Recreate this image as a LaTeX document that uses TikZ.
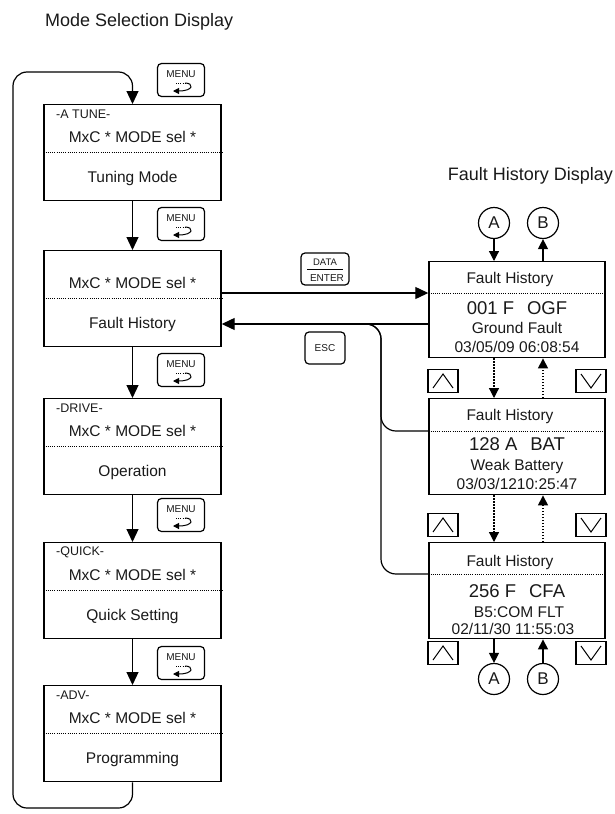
\documentclass[tikz,border=0pt]{standalone}
\usepackage{fontspec}
\setmainfont{Liberation Sans}
\usetikzlibrary{arrows.meta,calc}

\newcommand{\txtsz}[1]{\fontsize{#1}{#1}\selectfont}

\begin{document}
\begin{tikzpicture}[x=1pt, y=-1pt,
  every node/.style={text=black!90, inner sep=0pt},
  screen/.style={draw, line width=1.4pt, minimum width=177pt, minimum height=96pt},
  dotsep/.style={line width=0.9pt, dash pattern=on 0.9pt off 1.3pt},
  flow/.style={line width=1.2pt, -{Triangle[length=13pt,width=12pt]}},
  link/.style={line width=1.2pt, -{Triangle[length=10pt,width=10pt]}},
  dlink/.style={line width=1.2pt, dash pattern=on 1.4pt off 1.6pt, -{Triangle[length=10pt,width=10pt]}},
  btn/.style={draw, line width=1.2pt, rounded corners=4pt, minimum width=47pt, minimum height=33pt},
  arrowkey/.style={draw, line width=1.2pt, minimum width=30pt, minimum height=23pt},
  modetag/.style={anchor=west, font=\txtsz{12.5}},
  lbl/.style={font=\txtsz{15.5}},
  big/.style={font=\txtsz{18.5}},
  letter/.style={draw, circle, line width=1.2pt, minimum size=31pt, font=\txtsz{17}},
]
\useasboundingbox (0,0) rectangle (615,814);

% titles
\node[anchor=west, font=\txtsz{18}] (mstitle) at (45,22) {Mode Selection Display};
\node[anchor=east, font=\txtsz{18}] (fhtitle) at (613,176) {Fault History Display};

% mode selection screens
\foreach \n/\y/\tg/\md in {1/104/-A TUNE-/Tuning Mode, 2/250//Fault History,
    3/398/-DRIVE-/Operation, 4/542/-QUICK-/Quick Setting, 5/685/-ADV-/Programming} {
  \node[screen, anchor=north] (m\n) at (132.5,\y) {};
  \draw[dotsep] ([yshift=-48pt]m\n.north west) -- ([yshift=-48pt]m\n.north east);
  \node[modetag] (m\n-tag) at (56,\y+10) {\tg};
  \node[lbl] (m\n-sel) at (132.5,\y+33) {MxC * MODE sel *};
  \node[lbl] (m\n-name) at (132.5,\y+74) {\md};
}
\foreach \a/\b in {1/2,2/3,3/4,4/5}
  \draw[flow] (m\a.south) -- (m\b.north);
\draw[flow, rounded corners=14pt] (m5.south) |- (13,808) -- (13,72) -| (m1.north);

% MENU keys
\foreach \k/\y in {0/80,1/224,2/370,3/515,4/663} {
  \node[btn] (menu\k) at (181,\y) {};
  \node[font=\txtsz{10}] (menu\k-t) at (181,\y-6) {MENU};
  \draw[dotsep] ([shift={(-5,3)}]menu\k.center) -- ([shift={(4,3)}]menu\k.center);
  \draw[line width=1pt, -{Triangle[length=6pt,width=6pt]}]
    ([shift={(4,3)}]menu\k.center) .. controls ([shift={(13,3)}]menu\k.center)
    and ([shift={(13,11)}]menu\k.center) .. ([shift={(-8,11)}]menu\k.center);
}

% fault history screens
\node[screen, minimum width=176pt, anchor=north] (fh1) at (517,261) {};
\draw[dotsep] ([yshift=-32pt]fh1.north west) coordinate (fh1-l) -- ([yshift=-32pt]fh1.north east);
\node[lbl] (fh1-head) at (510,279) {Fault History};
\node[big] (fh1-code) at (517,308) {001 F\hspace{0.7em}OGF};
\node[lbl] (fh1-msg) at (517,328) {Ground Fault};
\node[lbl] (fh1-date) at (517,347) {03/05/09 06:08:54};

\node[screen, minimum width=176pt, anchor=north] (fh2) at (517,398) {};
\draw[dotsep] ([yshift=-33pt]fh2.north west) coordinate (fh2-l) -- ([yshift=-33pt]fh2.north east);
\node[lbl] (fh2-head) at (510,416) {Fault History};
\node[big] (fh2-code) at (517,444) {128 A\hspace{0.7em}BAT};
\node[lbl] (fh2-msg) at (517,466) {Weak Battery};
\node[lbl] (fh2-date) at (517,484) {03/03/1210:25:47};

\node[screen, minimum width=176pt, anchor=north] (fh3) at (517,542) {};
\draw[dotsep] ([yshift=-32pt]fh3.north west) coordinate (fh3-l) -- ([yshift=-32pt]fh3.north east);
\node[lbl] (fh3-head) at (510,562) {Fault History};
\node[big] (fh3-code) at (517,591) {256 F\hspace{0.7em}CFA};
\node[lbl] (fh3-msg) at (519,612) {B5:COM FLT};
\node[lbl] (fh3-date) at (513,629) {02/11/30 11:55:03};

% A / B links
\node[letter] (atop) at (494,223) {A};
\node[letter] (btop) at (543,223) {B};
\node[letter] (abot) at (494,679) {A};
\node[letter] (bbot) at (543,679) {B};
\draw[link] (atop) -- (atop |- fh1.north);
\draw[link] (btop |- fh1.north) -- (btop);
\draw[dlink] (atop |- fh1.south) -- (atop |- fh2.north);
\draw[dlink] (btop |- fh2.north) -- (btop |- fh1.south);
\draw[dlink] (atop |- fh2.south) -- (atop |- fh3.north);
\draw[dlink] (btop |- fh3.north) -- (btop |- fh2.south);
\draw[link] (abot |- fh3.south) -- (abot);
\draw[link] (bbot) -- (bbot |- fh3.south);

% up / down keys
\foreach \k/\y in {1/381,2/525,3/653} {
  \node[arrowkey] (up\k) at (443,\y) {};
  \draw[line width=1pt] ([shift={(-10,7)}]up\k.center) -- ([shift={(0,-7)}]up\k.center)
    -- ([shift={(10,7)}]up\k.center);
  \node[arrowkey] (dn\k) at (591,\y) {};
  \draw[line width=1pt] ([shift={(-10,-7)}]dn\k.center) -- ([shift={(0,7)}]dn\k.center)
    -- ([shift={(10,-7)}]dn\k.center);
}

% DATA/ENTER and ESC
\node[btn, minimum width=48pt, minimum height=32pt] (enter) at (325,269) {};
\node[font=\txtsz{9.5}] (enter-a) at (325,262) {DATA};
\draw[line width=1pt] ([shift={(-18,0)}]enter.center) -- ([shift={(18,0)}]enter.center);
\node[font=\txtsz{10}] (enter-b) at (327,278) {ENTER};
\draw[flow] (m2.east |- fh1-l) -- (fh1-l);

\node[btn, minimum width=40pt, minimum height=32pt, font=\txtsz{10}] (esc) at (325,348) {ESC};
\coordinate (escj) at (381,324);
\draw[flow] (fh1.west |- m2-name) -- (m2.east |- m2-name);
\draw[line width=1.2pt, rounded corners=15pt] (fh2-l) -| (escj) -- ++(-30,0);
\draw[line width=1.2pt, rounded corners=15pt] (fh3-l) -| (escj) -- ++(-30,0);
\end{tikzpicture}
\end{document}
